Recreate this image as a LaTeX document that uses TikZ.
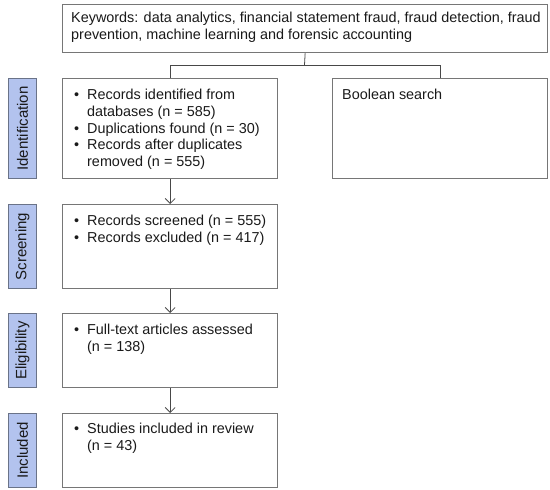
\documentclass[tikz,border=0pt]{standalone}
\usepackage{fontspec}
\setmainfont{Liberation Sans}
\usetikzlibrary{arrows.meta}
\definecolor{lblfill}{HTML}{B3C3EE}
\definecolor{lbldraw}{HTML}{6A7388}
\definecolor{boxdraw}{HTML}{767676}
\definecolor{txt}{HTML}{1A1A1A}
\begin{document}
\begin{tikzpicture}[x=1pt,y=-1pt,
  box/.style={draw=boxdraw,line width=1.3pt,fill=white,inner sep=0},
  lbl/.style={draw=lbldraw,line width=1.1pt,fill=lblfill,inner sep=0,minimum width=28pt},
  lbltext/.style={rotate=90,font=\fontsize{15}{17}\selectfont,text=txt},
  body/.style={font=\fontsize{14.4}{16.7}\selectfont,text=txt,inner sep=0,anchor=north west,align=left},
  conn/.style={draw=txt!80,line width=0.8pt},
  arr/.style={conn,-{Straight Barb[length=5pt,width=10pt,line width=0.8pt]}}
]
\useasboundingbox (0,0) rectangle (550,490);
\newcommand{\bl}{\makebox[13pt][l]{\textbullet}}
\newcommand{\ind}{\hspace*{13pt}}
% boxes
\node[box,minimum width=485pt,minimum height=48.5pt,anchor=north west] (kw) at (62,3.5) {};
\node[body] (kwt) at (71,12) {Keywords: data analytics, financial statement fraud, fraud detection, fraud\\prevention, machine learning and forensic accounting};
\node[box,minimum width=215pt,minimum height=100pt,anchor=north west] (id) at (62,78) {};
\node[box,minimum width=215pt,minimum height=100pt,anchor=north west] (bs) at (332,78) {};
\node[box,minimum width=215pt,minimum height=84pt,anchor=north west] (sc) at (62,204) {};
\node[box,minimum width=215pt,minimum height=74pt,anchor=north west] (el) at (62,313) {};
\node[box,minimum width=215pt,minimum height=74pt,anchor=north west] (in) at (62,413) {};
% texts
\node[body] (idt) at (74,89) {\bl Records identified from\\\ind databases (n = 585)\\\bl Duplications found (n = 30)\\\bl Records after duplicates\\\ind removed (n = 555)};
\node[body] (bst) at (342,89) {Boolean search};
\node[body] (sct) at (74,215) {\bl Records screened (n = 555)\\\bl Records excluded (n = 417)};
\node[body] (elt) at (74,324) {\bl Full-text articles assessed\\\ind (n = 138)};
\node[body] (int) at (74,423) {\bl Studies included in review\\\ind (n = 43)};
% labels
\node[lbl,minimum height=100pt,anchor=north west] (lid) at (8,78) {};
\node[lbltext] at (lid.center) {Identification};
\node[lbl,minimum height=84pt,anchor=north west] (lsc) at (8,204) {};
\node[lbltext] at (lsc.center) {Screening};
\node[lbl,minimum height=74pt,anchor=north west] (lel) at (8,313) {};
\node[lbltext] at (lel.center) {Eligibility};
\node[lbl,minimum height=74pt,anchor=north west] (lin) at (8,413) {};
\node[lbltext] at (lin.center) {Included};
% connectors
\coordinate (split) at (304.5,65);
\draw[conn] (kw.south) -- (split);
\draw[conn] (split) -| (id.north);
\draw[conn] (split) -| (bs.north);
\draw[arr] (id.south) -- (sc.north);
\draw[arr] (sc.south) -- (el.north);
\draw[arr] (el.south) -- (in.north);
\end{tikzpicture}
\end{document}
